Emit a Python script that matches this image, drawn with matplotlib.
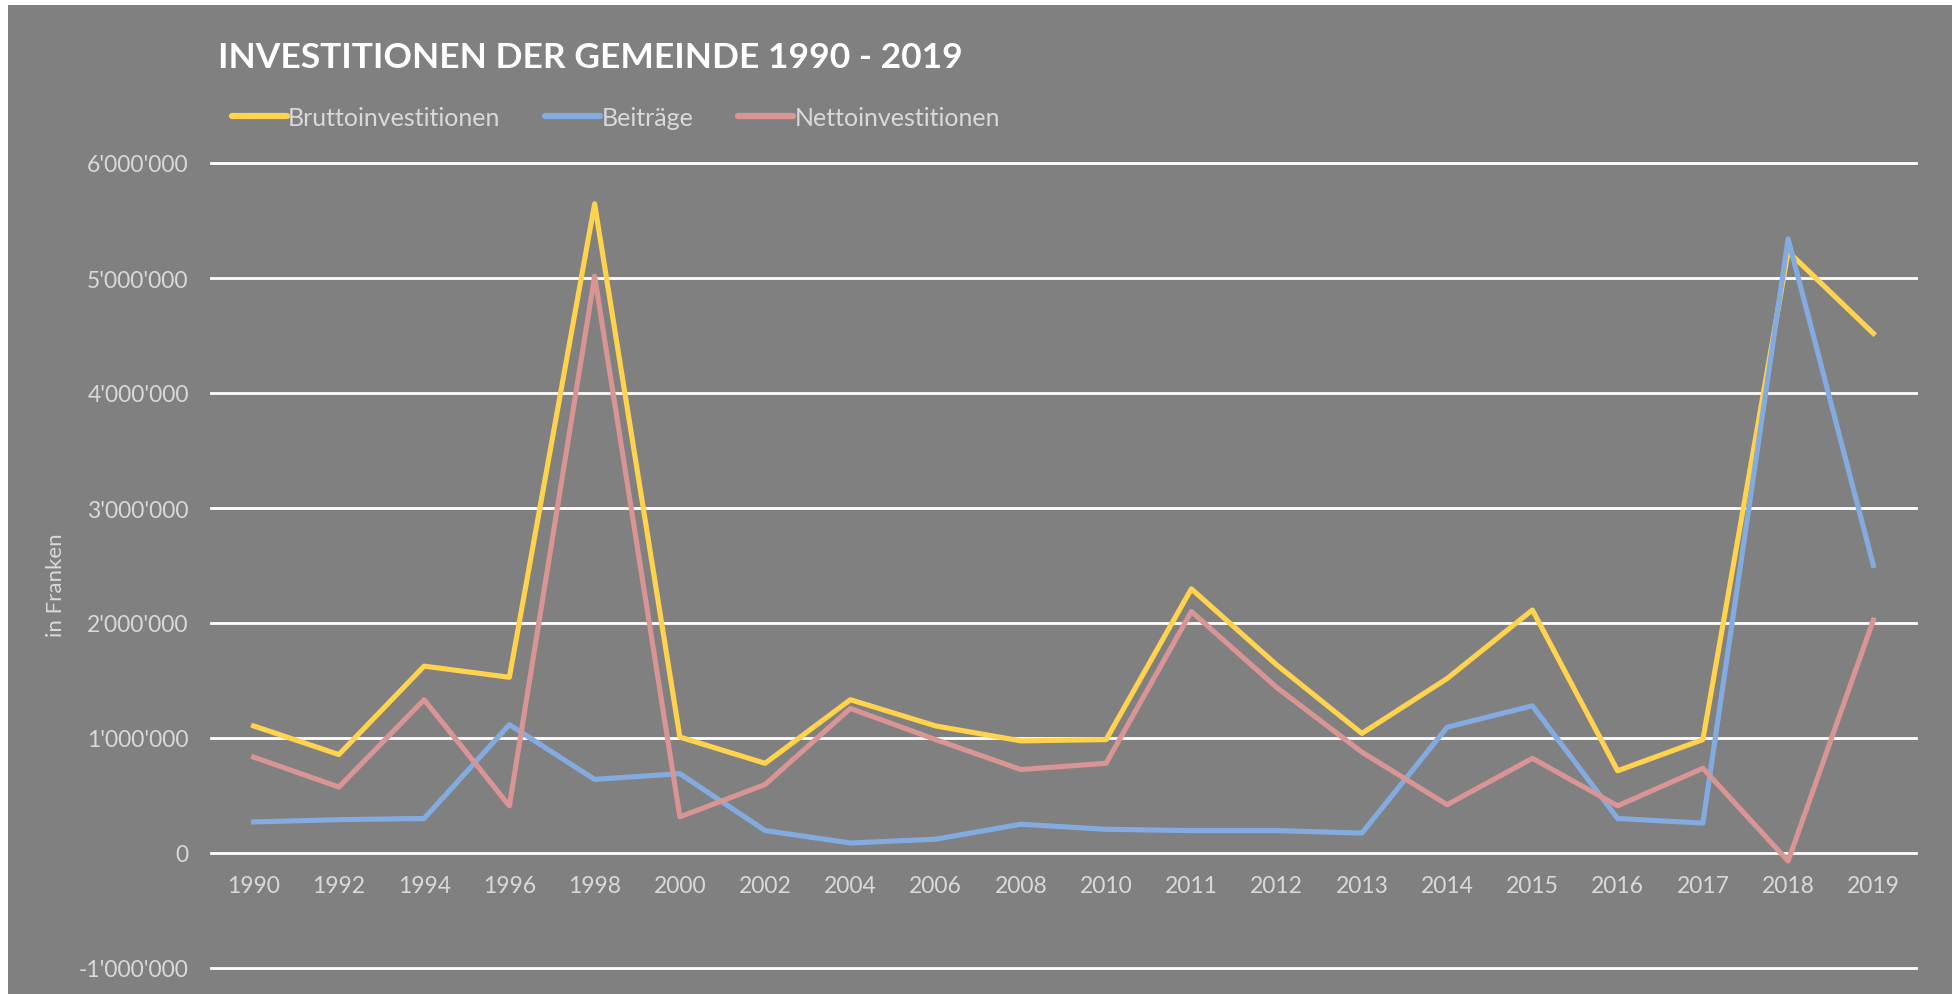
import matplotlib.pyplot as plt
from matplotlib.patches import Rectangle
from matplotlib.ticker import FuncFormatter

# Jahre (Kategorien) und Werte in Franken
years = ["1990", "1992", "1994", "1996", "1998", "2000", "2002", "2004", "2006", "2008",
         "2010", "2011", "2012", "2013", "2014", "2015", "2016", "2017", "2018", "2019"]
brutto = [1105000, 856000, 1625000, 1528000, 5645000, 1008000, 780000, 1333000, 1105000, 975000,
          986000, 2297000, 1636000, 1040000, 1517000, 2113000, 715000, 986000, 5230000, 4518000]
beitraege = [270000, 290000, 300000, 1116000, 640000, 690000, 195000, 87000, 120000, 250000,
             206000, 195000, 195000, 173000, 1094000, 1280000, 300000, 260000, 5340000, 2500000]
netto = [834000, 574000, 1333000, 410000, 5016000, 314000, 596000, 1257000, 986000, 726000,
         780000, 2100000, 1440000, 877000, 420000, 823000, 410000, 737000, -70000, 2026000]

bg = "#808080"
txt = "#D9D9D9"
font = "Lato"

fig = plt.figure(figsize=(19.52, 9.95), dpi=100, facecolor="white")
fig.patches.append(Rectangle((8 / 1952, 0), 1, 1 - 6 / 995, transform=fig.transFigure,
                             facecolor=bg, edgecolor="none", zorder=-10))

ax = fig.add_axes([211 / 1952, 1 - 969 / 995, (1916 - 211) / 1952, (969 - 164) / 995])
ax.set_zorder(2)
ax.patch.set_alpha(0)

x = list(range(len(years)))
ax.plot(x, brutto, color="#FFD34E", lw=3.7, label="Bruttoinvestitionen", zorder=3)
ax.plot(x, beitraege, color="#84ABE0", lw=3.7, label="Beiträge", zorder=3)
ax.plot(x, netto, color="#D89593", lw=3.7, label="Nettoinvestitionen", zorder=3)

ax.set_xlim(-0.5, len(years) - 0.5)
ax.set_ylim(-1000000, 6000000)
ax.set_yticks(range(-1000000, 6000001, 1000000))
ax.yaxis.set_major_formatter(FuncFormatter(lambda v, p: f"{int(v):,}".replace(",", "'")))
ax.grid(axis="y", color="white", lw=2)
for gl in ax.get_ygridlines():
    gl.set_clip_on(False)
ax.set_axisbelow(True)
for s in ["top", "right", "left"]:
    ax.spines[s].set_visible(False)
ax.spines["bottom"].set_position(("data", 0))
ax.spines["bottom"].set_visible(False)
ax.set_xticks(x)
ax.set_xticklabels(years)
ax.tick_params(axis="both", length=0, colors=txt, labelsize=16.5)
ax.tick_params(axis="y", pad=16)
ax.tick_params(axis="x", pad=16)
for lab in ax.get_xticklabels() + ax.get_yticklabels():
    lab.set_fontfamily(font)

fig.text(56 / 1952, 1 - 585 / 995, "in Franken", rotation=90, color=txt, fontsize=16,
         family=font, ha="center", va="center")

fig.text(218 / 1952, 1 - 58 / 995, "INVESTITIONEN DER GEMEINDE 1990 - 2019", color="white",
         fontsize=25.5, fontweight="bold", family=font, ha="left", va="center")

leg = fig.legend(loc="center left", bbox_to_anchor=(209 / 1952, 1 - 118 / 995), ncol=3,
                 frameon=False, handlelength=2.2, handletextpad=0.05, columnspacing=1.8,
                 prop={"family": font, "size": 18})
for t in leg.get_texts():
    t.set_color(txt)
for h in leg.get_lines():
    h.set_linewidth(4.5)
    h.set_solid_capstyle("round")

fig.savefig("out.png", dpi=100, facecolor=fig.get_facecolor())
